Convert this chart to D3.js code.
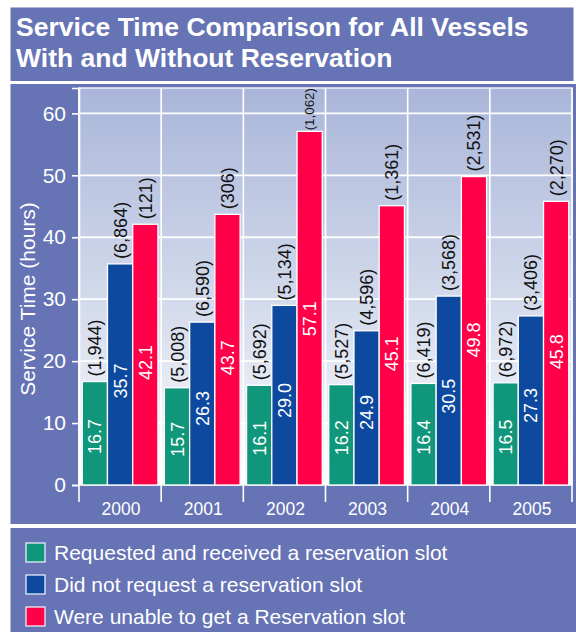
<!DOCTYPE html>
<html>
<head>
<meta charset="utf-8">
<script src="https://cdn.jsdelivr.net/npm/d3@7"></script>
<style>
  html, body { margin: 0; padding: 0; background: #ffffff; }
  svg { display: block; font-family: "Liberation Sans", Arial, Helvetica, sans-serif; }
</style>
</head>
<body>
<svg id="chart" width="576" height="632"></svg>
<script>
// ---- Data ----
const years = ["2000", "2001", "2002", "2003", "2004", "2005"];
const seriesNames = [
  "Requested and received a reservation slot",
  "Did not request a reservation slot",
  "Were unable to get a Reservation slot"
];
const requestedHours   = [16.7, 15.7, 16.1, 16.2, 16.4, 16.5];
const notRequestedHours = [35.7, 26.3, 29.0, 24.9, 30.5, 27.3];
const unableHours      = [42.1, 43.7, 57.1, 45.1, 49.8, 45.8];
const requestedCounts   = ["(1,944)", "(5,008)", "(5,692)", "(5,527)", "(6,419)", "(6,972)"];
const notRequestedCounts = ["(6,864)", "(6,590)", "(5,134)", "(4,596)", "(3,568)", "(3,406)"];
const unableCounts      = ["(121)", "(306)", "(1,062)", "(1,361)", "(2,531)", "(2,270)"];
const yTicks = [0, 10, 20, 30, 40, 50, 60];
const titleLines = ["Service Time Comparison for All Vessels", "With and Without Reservation"];
const yAxisTitle = "Service Time (hours)";
const colors = ["#10967a", "#0d499e", "#ff0049"];

const valuesBySeries = [requestedHours, notRequestedHours, unableHours];
const countsBySeries = [requestedCounts, notRequestedCounts, unableCounts];

const panelColor = "#6673b5";
const svg = d3.select("#chart");

// ---- Panels ----
svg.append("rect").attr("x", 0).attr("y", 0).attr("width", 576).attr("height", 632).attr("fill", "#ffffff");
svg.append("rect").attr("x", 10.5).attr("y", 7.5).attr("width", 563).attr("height", 73.5).attr("fill", panelColor);
svg.append("rect").attr("x", 10.5).attr("y", 84).attr("width", 566).attr("height", 440).attr("fill", panelColor);
svg.append("rect").attr("x", 10.5).attr("y", 528).attr("width", 566).attr("height", 104).attr("fill", panelColor);

// ---- Title ----
svg.append("g").selectAll("text").data(titleLines).join("text")
  .attr("x", 16)
  .attr("y", (d, i) => 36 + i * 31)
  .attr("fill", "#ffffff")
  .attr("font-size", 26.5)
  .attr("font-weight", "bold")
  .text(d => d);

// ---- Scales ----
const plotLeft = 79, plotRight = 572, plotTop = 88, plotBottom = 485;
const x0 = d3.scaleBand().domain(years).range([plotLeft, plotRight]).paddingInner(0).paddingOuter(0);
const x1 = d3.scaleBand().domain(d3.range(3)).range([0, x0.bandwidth()]).paddingInner(0).paddingOuter(0.1285);
const y = d3.scaleLinear().domain([0, 64.1]).range([plotBottom, plotTop]);

// ---- Plot background gradient ----
const defs = svg.append("defs");
const grad = defs.append("linearGradient").attr("id", "bg").attr("x1", 0).attr("y1", 0).attr("x2", 0).attr("y2", 1);
grad.append("stop").attr("offset", "0%").attr("stop-color", "#a9b6d9");
grad.append("stop").attr("offset", "55%").attr("stop-color", "#d4dbec");
grad.append("stop").attr("offset", "100%").attr("stop-color", "#fdfdfe");
svg.append("rect")
  .attr("x", plotLeft).attr("y", plotTop)
  .attr("width", plotRight - plotLeft).attr("height", plotBottom - plotTop)
  .attr("fill", "url(#bg)")
  .attr("stroke", "#eef1f8").attr("stroke-width", 1.5);

// ---- Grid ----
svg.append("g").selectAll("line").data(yTicks.filter(t => t > 0)).join("line")
  .attr("x1", plotLeft).attr("x2", plotRight)
  .attr("y1", d => y(d)).attr("y2", d => y(d))
  .attr("stroke", "#ffffff").attr("stroke-width", 1.8);
const boundaries = years.map(d => x0(d)).concat([x0(years[years.length - 1]) + x0.bandwidth()]);
svg.append("g").selectAll("line").data(boundaries).join("line")
  .attr("x1", d => d).attr("x2", d => d)
  .attr("y1", plotTop).attr("y2", plotBottom + 17)
  .attr("stroke", "#ffffff").attr("stroke-width", 1.6);

// ---- Y axis ----
const yAxis = svg.append("g")
  .attr("transform", `translate(${plotLeft},0)`)
  .call(d3.axisLeft(y).tickValues(yTicks).tickSize(7).tickPadding(6).tickFormat(d3.format("d")));
yAxis.select(".domain").attr("stroke", "#ffffff").attr("stroke-width", 1.6);
yAxis.selectAll(".tick line").attr("stroke", "#ffffff").attr("stroke-width", 1.6);
yAxis.selectAll(".tick text").attr("fill", "#ffffff").attr("font-size", 21)
  .attr("font-family", "Liberation Sans, Arial, sans-serif");

svg.append("text")
  .attr("transform", "translate(35,299) rotate(-90)")
  .attr("text-anchor", "middle")
  .attr("fill", "#ffffff")
  .attr("font-size", 21)
  .text(yAxisTitle);

// ---- X labels ----
svg.append("g").selectAll("text").data(years).join("text")
  .attr("x", d => x0(d) + x0.bandwidth() / 2 + 1)
  .attr("y", 515)
  .attr("text-anchor", "middle")
  .attr("fill", "#ffffff")
  .attr("font-size", 17.5)
  .text(d => d);

// ---- Bars ----
const barData = [];
years.forEach((yr, i) => {
  for (let s = 0; s < 3; s++) {
    barData.push({ year: yr, s: s, value: valuesBySeries[s][i], count: countsBySeries[s][i] });
  }
});

svg.append("g").selectAll("rect").data(barData).join("rect")
  .attr("x", d => x0(d.year) + x1(d.s))
  .attr("y", d => y(d.value))
  .attr("width", x1.bandwidth())
  .attr("height", d => y(0) - y(d.value))
  .attr("fill", d => colors[d.s])
  .attr("stroke", "#ffffff").attr("stroke-width", 1.3);

// value labels inside bars
svg.append("g").selectAll("text").data(barData).join("text")
  .attr("transform", d => `translate(${x0(d.year) + x1(d.s) + x1.bandwidth() / 2 + 6.5},${y(d.value * 0.47)}) rotate(-90)`)
  .attr("text-anchor", "middle")
  .attr("fill", "#ffffff")
  .attr("font-size", 18)
  .text(d => d.value.toFixed(1));

// count labels above bars
const countLabels = svg.append("g").selectAll("text").data(barData).join("text")
  .attr("transform", d => `translate(${x0(d.year) + x1(d.s) + x1.bandwidth() / 2 + 6.5},${y(d.value) - 5}) rotate(-90)`)
  .attr("text-anchor", "start")
  .attr("fill", "#111111")
  .attr("font-size", 18)
  .text(d => d.count);
countLabels.each(function (d) {
  const avail = y(d.value) - 1 - plotTop;
  const len = this.getComputedTextLength();
  if (len > avail - 4) {
    const fs = 18 * avail / len;
    d3.select(this).attr("font-size", fs)
      .attr("transform", `translate(${x0(d.year) + x1(d.s) + x1.bandwidth() / 2 + 4.5},${y(d.value) - 1}) rotate(-90)`);
  }
});

// ---- Legend ----
const legend = svg.append("g").selectAll("g").data(seriesNames).join("g")
  .attr("transform", (d, i) => `translate(26,${543 + i * 32})`);
legend.append("rect")
  .attr("x", 0).attr("y", 0).attr("width", 19).attr("height", 19)
  .attr("fill", (d, i) => colors[i])
  .attr("stroke", "#e8ecf6").attr("stroke-width", 1.3);
legend.append("text")
  .attr("x", 28).attr("y", 16.5)
  .attr("fill", "#ffffff")
  .attr("font-size", 21)
  .text(d => d);
</script>
</body>
</html>
